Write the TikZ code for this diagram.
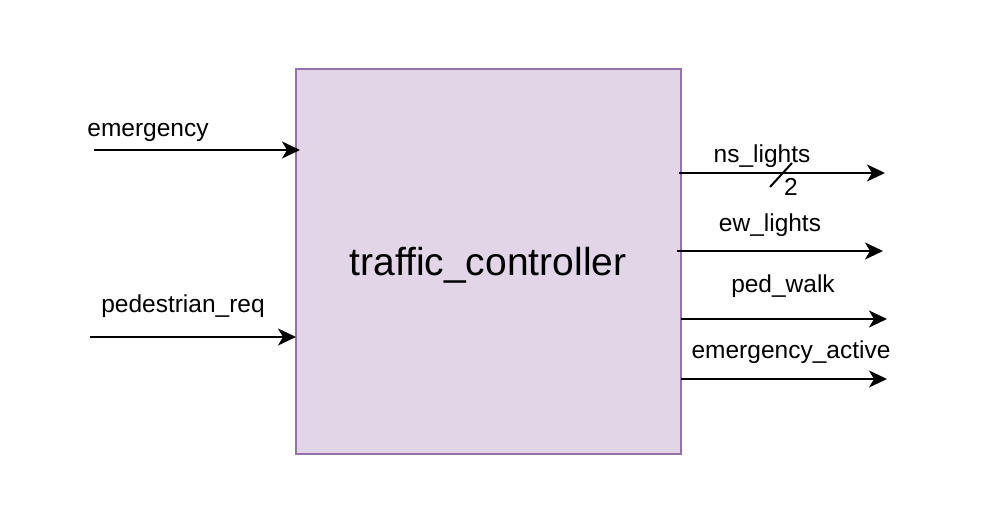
\documentclass[tikz,border=0pt]{standalone}
\usepackage{fontspec}
\setmainfont{Liberation Sans}
\usetikzlibrary{arrows.meta}
\definecolor{boxfill}{HTML}{E1D5E7}
\definecolor{boxdraw}{HTML}{9673A6}
\tikzset{
  sig/.style={line width=2pt,-{Stealth[length=18pt,width=17pt,inset=5pt]}},
  lbl/.style={anchor=base,inner sep=0pt,font=\fontsize{24.5}{28}\selectfont},
  blk/.style={draw=boxdraw,fill=boxfill,line width=2pt,minimum width=385pt,minimum height=385pt,inner sep=0pt},
}
\begin{document}
\begin{tikzpicture}[x=1pt,y=-1pt]
\useasboundingbox (0,0) rectangle (988,532);
\node[blk] (box) at (488.5,261.5) {};
\node[lbl,font=\fontsize{39}{44}\selectfont] (title) at (488,275) {traffic\_controller};
% inputs
\coordinate (e0) at (94,150);
\coordinate (e1) at (300,150);
\draw[sig] (e0) -- (e1);
\node[lbl] (le) at (148,137) {emergency};
\coordinate (p0) at (90,337);
\coordinate (p1) at (296,337);
\draw[sig] (p0) -- (p1);
\node[lbl] (lp) at (183,312) {pedestrian\_req};
% outputs
\coordinate (n0) at (679,173);
\coordinate (n1) at (885,173);
\draw[sig] (n0) -- (n1);
\node[lbl] (ln) at (762,163) {ns\_lights};
\coordinate (s0) at (770,187);
\coordinate (s1) at (792,163);
\draw[line width=2pt] (s0) -- (s1);
\node[lbl] (l2) at (791,195) {2};
\coordinate (w0) at (677,251);
\coordinate (w1) at (883,251);
\draw[sig] (w0) -- (w1);
\node[lbl] (lw) at (770,231) {ew\_lights};
\coordinate (pw0) at (681,319);
\coordinate (pw1) at (887,319);
\draw[sig] (pw0) -- (pw1);
\node[lbl] (lpw) at (783,292) {ped\_walk};
\coordinate (ea0) at (681,379);
\coordinate (ea1) at (887,379);
\draw[sig] (ea0) -- (ea1);
\node[lbl] (lea) at (791,358) {emergency\_active};
\end{tikzpicture}
\end{document}
